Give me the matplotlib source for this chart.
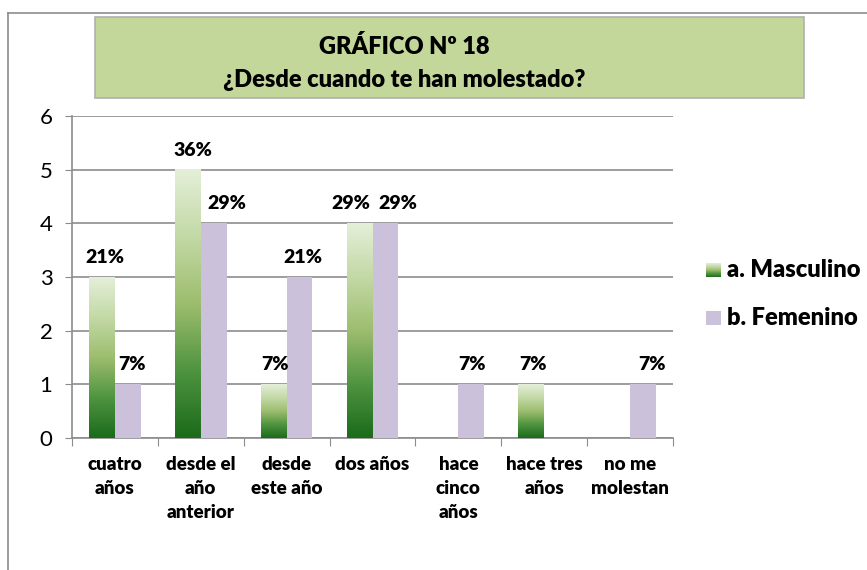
import numpy as np
import matplotlib
matplotlib.use("Agg")
from matplotlib import pyplot as plt
from matplotlib.colors import LinearSegmentedColormap
from matplotlib.patches import Rectangle
from matplotlib.lines import Line2D

categorias = ["cuatro\naños", "desde el\naño\nanterior", "desde\neste año", "dos años",
              "hace\ncinco\naños", "hace tres\naños", "no me\nmolestan"]
masculino = [3, 5, 1, 4, 0, 1, 0]
femenino = [1, 4, 3, 4, 1, 0, 1]
pct_masc = ["21%", "36%", "7%", "29%", "", "7%", ""]
pct_fem = ["7%", "29%", "21%", "29%", "7%", "", "7%"]
series = ["a. Masculino", "b. Femenino"]

# pequeños desplazamientos (px) de las etiquetas, como en el original
dx_masc = [3, 5, 1, -9, 0, 2, 0]
dx_fem = [4, 13, 3, 12, 1, 0, 9]

plt.rcParams["font.family"] = ["Lato", "DejaVu Sans"]
BW = "heavy"

W, H = 867, 570
fig = plt.figure(figsize=(W / 100, H / 100), dpi=100)
fig.patch.set_facecolor("white")

def fx(px):
    return px / W

def fy(py):
    return 1 - py / H

verde = LinearSegmentedColormap.from_list("verde", ["#1b6b1b", "#4f9440", "#9dbd6e", "#c3d9a6", "#e4efd9"])
morado = "#ccc1da"
gris = "#8c8c8c"

# marco exterior
fig.add_artist(Line2D([fx(8), fx(867)], [fy(13), fy(13)], color=gris, lw=1.2))
fig.add_artist(Line2D([fx(8), fx(8)], [fy(13), fy(570)], color=gris, lw=1.2))

# caja del titulo
fig.add_artist(Rectangle((fx(95), fy(98)), fx(804) - fx(95), fy(17) - fy(98),
                         transform=fig.transFigure, facecolor="#c4d79b",
                         edgecolor="#b0b0b0", lw=1.2))
fig.text(fx(404), fy(46), "GRÁFICO Nº 18", ha="center", va="center",
         fontsize=17, fontweight=BW)
fig.text(fx(404), fy(80), "¿Desde cuando te han molestado?", ha="center", va="center",
         fontsize=17, fontweight=BW)

ax = fig.add_axes([fx(72), fy(438), fx(673) - fx(72), fy(116) - fy(438)])
x = np.arange(len(categorias))
w = 0.30
grad = np.linspace(0, 1, 256).reshape(-1, 1)

bars_m = ax.bar(x - w / 2, masculino, w, color="none", zorder=3)
for r in bars_m:
    h = r.get_height()
    if h > 0:
        ax.imshow(grad, cmap=verde, origin="lower", aspect="auto", zorder=3,
                  extent=(r.get_x(), r.get_x() + r.get_width(), 0, h))
bars_f = ax.bar(x + w / 2, femenino, w, color=morado, zorder=3)

for i in range(len(categorias)):
    if pct_masc[i]:
        ax.annotate(pct_masc[i], (x[i] - w / 2, masculino[i]), xytext=(dx_masc[i] * 0.72, 8),
                    textcoords="offset points", ha="center", va="bottom",
                    fontsize=14, fontweight=BW, zorder=4)
    if pct_fem[i]:
        ax.annotate(pct_fem[i], (x[i] + w / 2, femenino[i]), xytext=(dx_fem[i] * 0.72, 8),
                    textcoords="offset points", ha="center", va="bottom",
                    fontsize=14, fontweight=BW, zorder=4)

ax.set_xlim(-0.5, len(categorias) - 0.5)
ax.set_ylim(0, 6)
ax.set_yticks(range(7))
ax.tick_params(axis="y", labelsize=16, length=5, color=gris, pad=9)
ax.set_xticks(np.arange(len(categorias) + 1) - 0.5)
ax.set_xticklabels([])
ax.tick_params(axis="x", length=6, color=gris)
ax.grid(axis="y", color=gris, lw=1.2, zorder=0)
for s in ["top", "right"]:
    ax.spines[s].set_visible(False)
for s in ["left", "bottom"]:
    ax.spines[s].set_color(gris)
    ax.spines[s].set_linewidth(1.2)

for i, c in enumerate(categorias):
    ax.text(x[i], -0.33, c, ha="center", va="top", fontsize=13.5, fontweight=BW,
            linespacing=1.5)

# leyenda
lax = fig.add_axes([fx(706), fy(277), fx(15), fy(263) - fy(277)])
lax.imshow(grad, cmap=verde, origin="lower", aspect="auto", extent=(0, 1, 0, 1))
lax.set_axis_off()
fig.add_artist(Rectangle((fx(706), fy(325)), fx(15), fy(311) - fy(325),
                         transform=fig.transFigure, facecolor=morado, edgecolor="none"))
fig.text(fx(727), fy(270), series[0], ha="left", va="center", fontsize=17, fontweight=BW)
fig.text(fx(727), fy(318), series[1], ha="left", va="center", fontsize=17, fontweight=BW)

fig.savefig("out.png", dpi=100)
